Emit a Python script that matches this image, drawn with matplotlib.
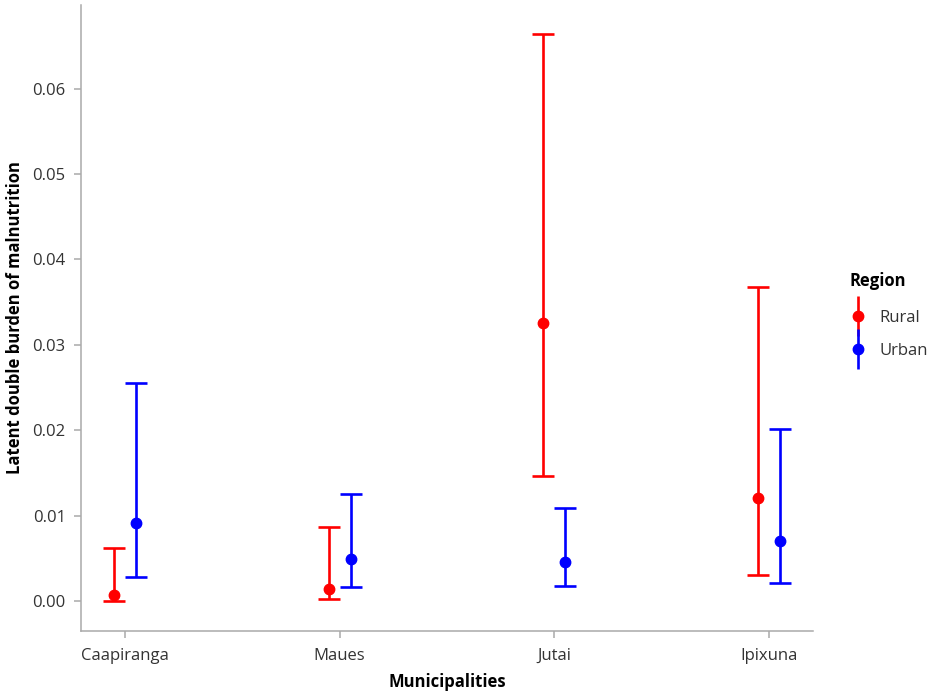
import matplotlib
matplotlib.use("Agg")
import matplotlib.pyplot as plt
import numpy as np
from matplotlib.container import ErrorbarContainer
from matplotlib.legend_handler import HandlerErrorbar

plt.rcParams['font.family'] = ['Open Sans', 'DejaVu Sans']

municipalities = ["Caapiranga", "Maues", "Jutai", "Ipixuna"]

rural_est = [0.0007, 0.0014, 0.0326, 0.0121]
rural_low = [0.0000, 0.0002, 0.0146, 0.0030]
rural_high = [0.0062, 0.0087, 0.0664, 0.0368]

urban_est = [0.0091, 0.0049, 0.0046, 0.0070]
urban_low = [0.0028, 0.0016, 0.0018, 0.0021]
urban_high = [0.0255, 0.0125, 0.0109, 0.0202]

yticks = [0.00, 0.01, 0.02, 0.03, 0.04, 0.05, 0.06]

fig = plt.figure(figsize=(9.35, 6.94), dpi=100)
ax = fig.add_axes([81/935, 1-631/694, (813-81)/935, (631-5)/694])

x = np.arange(1, len(municipalities) + 1)
dodge = 0.051

def draw(xpos, est, low, high, color):
    est = np.array(est); low = np.array(low); high = np.array(high)
    ax.errorbar(xpos, est, yerr=[est - low, high - est], fmt='o', color=color,
                ecolor=color, elinewidth=1.9, capsize=8, capthick=1.9,
                markersize=7.5, zorder=3)

draw(x - dodge, rural_est, rural_low, rural_high, '#FF0000')
draw(x + dodge, urban_est, urban_low, urban_high, '#0000FF')

ax.set_xlim(0.795, 4.205)
ax.set_ylim(-0.0035, 0.0698)
ax.set_xticks(x)
ax.set_xticklabels(municipalities)
ax.set_yticks(yticks)
ax.set_yticklabels([f"{v:.2f}" for v in yticks])

for s in ['top', 'right']:
    ax.spines[s].set_visible(False)
for s in ['left', 'bottom']:
    ax.spines[s].set_color('#aaaaaa')
    ax.spines[s].set_linewidth(1.1)
ax.tick_params(colors='#aaaaaa', labelcolor='#333333', labelsize=12, length=5, width=1.1)
ax.tick_params(axis='x', pad=7)
ax.tick_params(axis='y', pad=6)

ax.set_xlabel("Municipalities", fontsize=12, fontweight='bold', color='black', labelpad=7)
ax.set_ylabel("Latent double burden of malnutrition", fontsize=12, fontweight='bold', color='black', labelpad=6)

h1 = ax.errorbar([np.nan], [np.nan], yerr=[[np.nan], [np.nan]], fmt='o', color='#FF0000', elinewidth=1.9, markersize=7.5, capsize=0)
h2 = ax.errorbar([np.nan], [np.nan], yerr=[[np.nan], [np.nan]], fmt='o', color='#0000FF', elinewidth=1.9, markersize=7.5, capsize=0)
leg = fig.legend([h1, h2], ["Rural", "Urban"], title="Region",
                 loc='center left', bbox_to_anchor=(0.893, 0.545), frameon=False,
                 numpoints=1, fontsize=12, handlelength=1.0, handletextpad=0.75,
                 labelspacing=1.05,
                 handler_map={ErrorbarContainer: HandlerErrorbar(yerr_size=1.2)})
leg.get_title().set_fontweight('bold')
leg.get_title().set_fontsize(12)
leg._legend_box.align = "left"
leg._legend_box.sep = 14
for t in leg.get_texts():
    t.set_color('#333333')

fig.savefig("out.png", dpi=100)
